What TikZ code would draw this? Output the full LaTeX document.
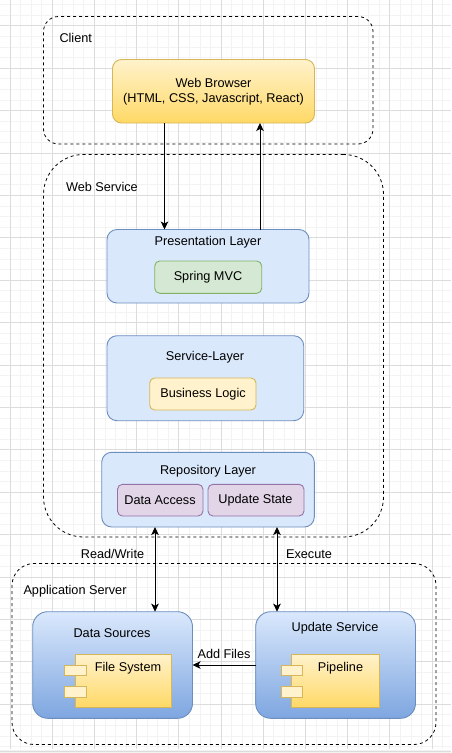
\documentclass[tikz,border=0pt]{standalone}
\usepackage{fontspec}
\setmainfont{Liberation Sans}
\usetikzlibrary{arrows.meta}
\definecolor{gridminor}{HTML}{F3F3F3}
\definecolor{gridmajor}{HTML}{DCDCDC}
\definecolor{blueline}{HTML}{6C8EBF}
\definecolor{bluefill}{HTML}{DAE8FC}
\definecolor{bluedeep}{HTML}{7EA6E0}
\definecolor{yellowline}{HTML}{D6B656}
\definecolor{yellowfill}{HTML}{FFF2CC}
\definecolor{yellowdeep}{HTML}{FFD966}
\definecolor{greenline}{HTML}{82B366}
\definecolor{greenfill}{HTML}{D5E8D4}
\definecolor{purpleline}{HTML}{9673A6}
\definecolor{purplefill}{HTML}{E1D5E7}
\tikzset{
  every node/.style={font=\fontsize{12.7pt}{15.5pt}\selectfont, inner sep=0pt, outer sep=0pt, align=center},
  group/.style={draw=black, line width=0.8pt, dash pattern=on 3pt off 3pt},
  layer/.style={draw=blueline, fill=bluefill, line width=0.9pt, rounded corners=10pt},
  server/.style={draw=blueline, top color=bluefill, bottom color=bluedeep, line width=0.9pt, rounded corners=15pt},
  browser/.style={draw=yellowline, top color=yellowfill, bottom color=yellowdeep, line width=0.9pt, rounded corners=9pt},
  part/.style={draw=#1line, fill=#1fill, line width=0.9pt, rounded corners=5pt},
  comp/.style={draw=yellowline, top color=yellowfill, bottom color=yellowdeep, line width=0.9pt},
  pin/.style={draw=yellowline, fill=yellowfill, line width=0.9pt},
  flow/.style={draw=black, line width=0.9pt, -{Stealth[length=8pt,width=7.5pt,inset=2pt]}},
  both/.style={draw=black, line width=0.9pt, {Stealth[length=8pt,width=7.5pt,inset=2pt]}-{Stealth[length=8pt,width=7.5pt,inset=2pt]}},
}
% box from corner to corner, x y x y
\newcommand{\boxnode}[6]{\node[#1, minimum width={(#5)*1pt-(#3)*1pt}, minimum height={(#6)*1pt-(#4)*1pt}, anchor=north west] (#2) at (#3,#4) {};}
\begin{document}
\begin{tikzpicture}[x=1pt, y=-1pt]
\useasboundingbox (0,0) rectangle (451,753);
\fill[white] (0,0) rectangle (451,753);
% grid
\foreach \i in {-1,...,43} \draw[gridminor, line width=0.8pt] (10+10.55*\i,0) -- (10+10.55*\i,749);
\foreach \i in {-2,...,68} \draw[gridminor, line width=0.8pt] (0,25.7+10.6*\i) -- (451,25.7+10.6*\i);
\foreach \i in {0,...,10} \draw[gridmajor, line width=0.8pt] (10+42.2*\i,0) -- (10+42.2*\i,749);
\foreach \i in {0,...,16} \draw[gridmajor, line width=0.8pt] (0,25.7+42.4*\i) -- (451,25.7+42.4*\i);
\fill[gridminor] (0,750) rectangle (451,753);
\draw[gridmajor, line width=0.8pt] (0,751) -- (451,751);

% groups
\boxnode{group, rounded corners=15pt}{client}{43.5}{16.5}{373}{144}
\boxnode{group, rounded corners=40pt}{webservice}{43.5}{154.5}{383.5}{537}
\boxnode{group, rounded corners=22pt}{appserver}{12}{563.5}{436}{744.5}
\node[anchor=west] (clientlabel) at (59.5,37.8) {Client};
\node[anchor=west] (weblabel) at (66,187) {Web Service};
\node[anchor=west] (applabel) at (23.5,591) {Application Server};

% browser
\boxnode{browser}{webbrowser}{112.5}{59.5}{314.5}{123}
\node (browserlabel) at (213.5,91.5) {Web Browser\\(HTML, CSS, Javascript, React)};

% layers
\boxnode{layer}{presentation}{107}{229.5}{309}{303}
\node (presentationlabel) at (208,242) {Presentation Layer};
\boxnode{part=green}{springmvc}{154.7}{261}{261.7}{293.3}
\node (springlabel) at (208,277.5) {Spring MVC};

\boxnode{layer}{servicelayer}{107}{335.7}{303.7}{420.7}
\node (servicelabel) at (205,357) {Service-Layer};
\boxnode{part=yellow}{business}{149.7}{378}{256}{410}
\node (businesslabel) at (203,394.5) {Business Logic};

\boxnode{layer}{repository}{101.7}{452.3}{314.3}{527}
\node (repositorylabel) at (208,471) {Repository Layer};
\boxnode{part=purple}{dataaccess}{117.5}{484.3}{203}{516}
\node (dataaccesslabel) at (160,500) {Data Access};
\boxnode{part=purple}{updatestate}{208}{484.3}{304}{516}
\node (updatestatelabel) at (255.5,500) {Update State};

% application server
\boxnode{server}{datasources}{32.7}{611.7}{192.5}{718.3}
\node (datasourceslabel) at (112,633) {Data Sources};
\boxnode{comp}{filesystem}{75}{654.3}{171}{707.3}
\boxnode{pin}{filepina}{64.3}{665}{86.5}{675.7}
\boxnode{pin}{filepinb}{64.3}{686}{86.5}{697}
\node (filesystemlabel) at (128,668.5) {File System};

\boxnode{server}{updateservice}{255.7}{611.7}{415.5}{718.3}
\node (updateservicelabel) at (335,628) {Update Service};
\boxnode{comp}{pipeline}{291.7}{654.3}{379.3}{707.3}
\boxnode{pin}{pipepina}{281}{665}{302.7}{675.7}
\boxnode{pin}{pipepinb}{281}{686}{302.7}{697}
\node (pipelinelabel) at (340.5,668.5) {Pipeline};

% connectors
\coordinate (downx) at (164.5,0);
\coordinate (upx) at (260,0);
\coordinate (readx) at (155,0);
\coordinate (execx) at (277,0);
\coordinate (filesy) at (0,665);
\draw[flow] (webbrowser.south -| downx) -- (presentation.north -| downx);
\draw[flow] (presentation.north -| upx) -- (webbrowser.south -| upx);
\draw[both] (repository.south -| readx) -- (datasources.north -| readx);
\draw[both] (repository.south -| execx) -- (updateservice.north -| execx);
\draw[flow] (updateservice.west |- filesy) -- (datasources.east |- filesy);
\node (readlabel) at (112.5,554) {Read/Write};
\node (execlabel) at (309,554) {Execute};
\node (addlabel) at (224,653.5) {Add Files};
\end{tikzpicture}
\end{document}
